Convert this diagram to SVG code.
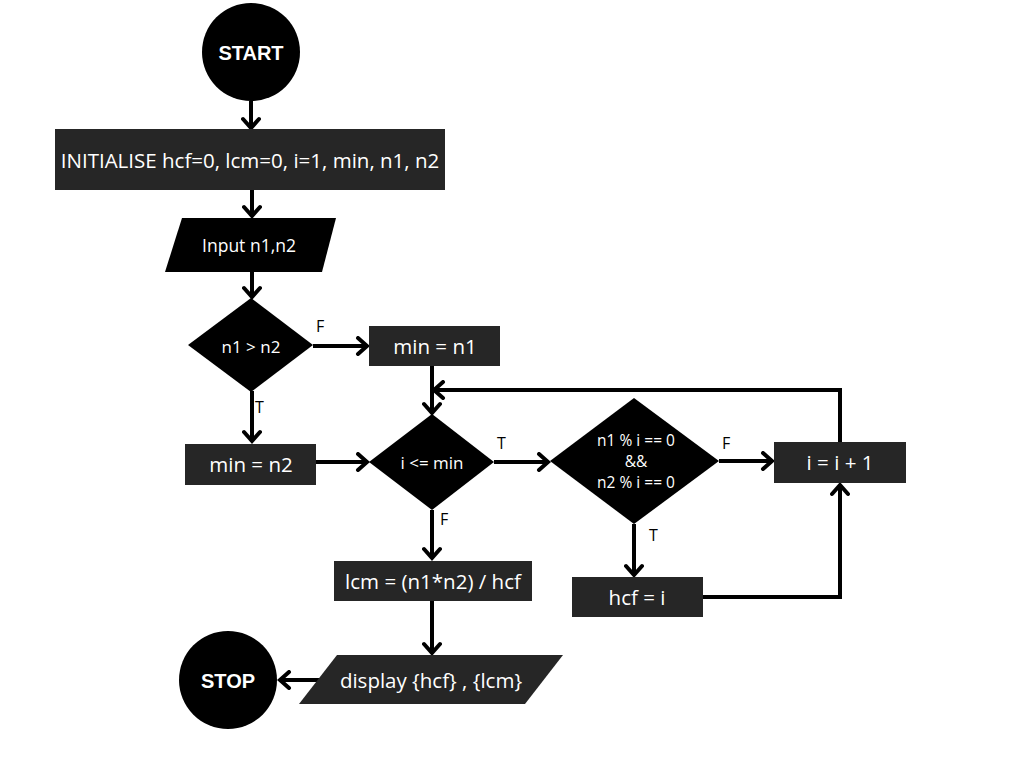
<svg xmlns="http://www.w3.org/2000/svg" width="1024" height="768" viewBox="0 0 1024 768">
  <style>
    .term { fill: #000000; }
    .box { fill: #262626; }
    .dec { fill: #000000; }
    .t { fill: #ffffff; font-family: "Open Sans", "Liberation Sans", sans-serif; text-anchor: middle; dominant-baseline: central; }
    .tb { fill: #ffffff; font-family: "Liberation Sans", Arial, sans-serif; font-weight: bold; font-size: 20px; text-anchor: middle; dominant-baseline: central; }
    .lbl { fill: #000000; font-family: "Open Sans", "Liberation Sans", sans-serif; font-size: 16px; }
    .edge { fill: none; stroke: #000000; stroke-width: 4; marker-end: url(#arrow); }
  </style>
  <defs>
    <marker id="arrow" markerUnits="userSpaceOnUse" markerWidth="16" markerHeight="20" refX="12" refY="10" orient="auto">
      <path d="M3,2 L12,10 L3,18" fill="none" stroke="#000000" stroke-width="4" stroke-linejoin="miter" stroke-linecap="round"/>
    </marker>
  </defs>
  <rect width="1024" height="768" fill="#ffffff"/>

  <!-- connectors -->
  <g id="connectors">
    <path class="edge" d="M251,101 L251,128"/>
    <path class="edge" d="M252,190 L252,216"/>
    <path class="edge" d="M252,271 L252,297"/>
    <path class="edge" d="M313,346 L367,346"/>
    <path class="edge" d="M252,391 L252,441"/>
    <path class="edge" d="M432,366 L432,413"/>
    <path class="edge" d="M840,442 L840,390 L434,390"/>
    <path class="edge" d="M316,462 L367,462"/>
    <path class="edge" d="M494,462 L548,462"/>
    <path class="edge" d="M719,461 L772,461"/>
    <path class="edge" d="M634,524 L634,575"/>
    <path class="edge" d="M703,597 L840,597 L840,485"/>
    <path class="edge" d="M432,510 L432,558"/>
    <path class="edge" d="M432,601 L432,653"/>
    <path class="edge" d="M324,680 L280,680"/>
    <text class="lbl" x="316" y="332">F</text>
    <text class="lbl" x="255" y="413">T</text>
    <text class="lbl" x="497" y="449">T</text>
    <text class="lbl" x="722" y="449">F</text>
    <text class="lbl" x="649" y="541">T</text>
    <text class="lbl" x="440" y="525">F</text>
  </g>

  <g id="start">
    <circle class="term" cx="251" cy="52" r="49"/>
    <text class="tb" x="251" y="53">START</text>
  </g>

  <g id="init">
    <rect class="box" x="55" y="129" width="390" height="61"/>
    <text class="t" x="250" y="160" font-size="20.5">INITIALISE hcf=0, lcm=0, i=1, min, n1, n2</text>
  </g>

  <g id="input">
    <polygon class="dec" points="182,218 336,218 322,272 165,272"/>
    <text class="t" x="249" y="245" font-size="17.5">Input n1,n2</text>
  </g>

  <g id="cmp">
    <polygon class="dec" points="251,298 313,345 251,392 188,345"/>
    <text class="t" x="251" y="346" font-size="17">n1 &gt; n2</text>
  </g>

  <g id="min-n1">
    <rect class="box" x="369" y="326" width="131" height="40"/>
    <text class="t" x="435" y="346" font-size="20.5">min = n1</text>
  </g>

  <g id="min-n2">
    <rect class="box" x="185" y="444" width="131" height="41"/>
    <text class="t" x="251" y="464" font-size="20.5">min = n2</text>
  </g>

  <g id="loop">
    <polygon class="dec" points="432,414 494,462 432,510 369,462"/>
    <text class="t" x="432" y="462" font-size="17">i &lt;= min</text>
  </g>

  <g id="divides">
    <polygon class="dec" points="634,398 719,461 634,524 550,461"/>
    <text class="t" x="636" y="440" font-size="15.5">n1 % i == 0</text>
    <text class="t" x="636" y="461" font-size="15.5">&amp;&amp;</text>
    <text class="t" x="636" y="482" font-size="15.5">n2 % i == 0</text>
  </g>

  <g id="inc">
    <rect class="box" x="774" y="442" width="132" height="41"/>
    <text class="t" x="840" y="462" font-size="20.5">i = i + 1</text>
  </g>

  <g id="hcf">
    <rect class="box" x="572" y="577" width="131" height="40"/>
    <text class="t" x="637" y="597" font-size="20.5">hcf = i</text>
  </g>

  <g id="lcm">
    <rect class="box" x="334" y="561" width="198" height="40"/>
    <text class="t" x="433" y="581" font-size="20.5">lcm = (n1*n2) / hcf</text>
  </g>

  <g id="display">
    <polygon class="box" points="337,655 563,655 525,704 299,704"/>
    <text class="t" x="431" y="680" font-size="20.5">display {hcf} , {lcm}</text>
  </g>

  <g id="stop">
    <circle class="term" cx="228" cy="680" r="49"/>
    <text class="tb" x="228" y="681">STOP</text>
  </g>
</svg>
